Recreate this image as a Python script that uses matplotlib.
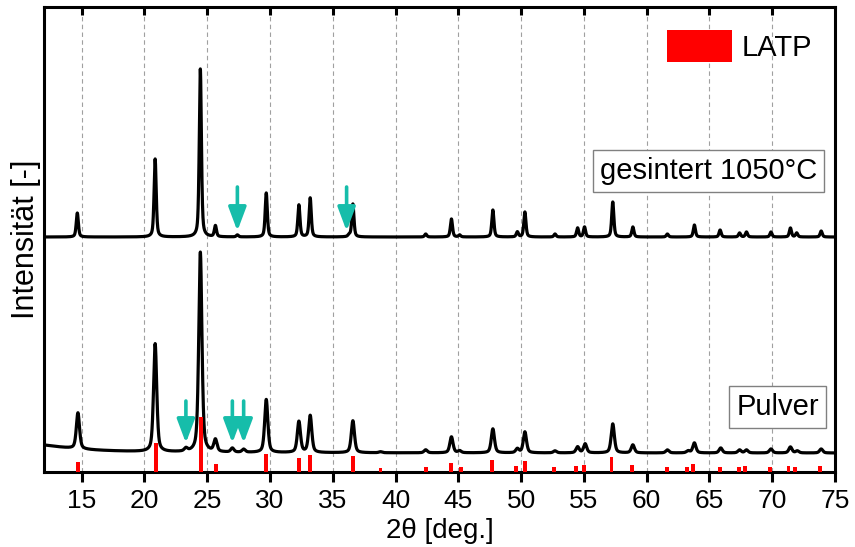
import numpy as np
import matplotlib.pyplot as plt

plt.rcParams['font.family'] = ['Liberation Sans', 'DejaVu Sans']

# peak tables: position [deg], height above background [a.u.]
pulver_pos = [14.7, 20.85, 23.3, 24.45, 25.65, 27.0, 27.9, 29.7, 32.3, 33.2, 36.6,
              38.8, 42.4, 44.45, 45.1, 47.75, 49.7, 50.3, 52.7, 54.5, 55.1, 57.3,
              58.9, 61.65, 63.3, 63.8, 65.9, 67.4, 67.95, 69.9, 71.45, 72.0, 73.9]
pulver_int = [36, 108, 3, 200, 12, 4, 3, 53, 31, 37, 32,
              1, 3, 16, 2, 24, 4, 21, 2, 6, 9, 29,
              8, 3, 2, 10, 5, 3, 3, 4, 6, 2, 4]

sinter_pos = [14.65, 20.85, 24.45, 25.65, 27.4, 29.7, 32.3, 33.2, 36.3, 36.6,
              42.4, 44.45, 45.1, 47.75, 49.7, 50.3, 52.7, 54.5, 55.05, 57.3,
              58.9, 61.65, 63.8, 65.85, 67.4, 67.95, 69.9, 71.45, 71.95, 73.9]
sinter_int = [24, 78, 168, 11, 2, 44, 32, 39, 2, 33,
              3, 18, 2, 27, 5, 25, 3, 9, 10, 35,
              10, 3, 12, 7, 4, 5, 5, 9, 4, 6]

# LATP reference pattern
latp_pos = [14.7, 20.9, 24.5, 25.7, 29.7, 32.3, 33.2, 36.6, 38.8, 42.4, 44.4,
            45.2, 47.7, 49.6, 50.3, 52.6, 54.4, 55.0, 57.2, 58.85, 61.6, 63.2,
            63.7, 65.85, 67.35, 67.85, 69.85, 71.3, 71.8, 73.8]
latp_int = [10, 29, 55, 8, 18, 14, 17, 16, 4, 5, 9,
            5, 12, 6, 11, 5, 6, 7, 15, 7, 5, 5,
            8, 5, 5, 6, 5, 6, 5, 6]

# secondary phase markers
pulver_arrows = [23.3, 27.0, 27.9]
sinter_arrows = [27.4, 36.1]

pulver_base = 19
sinter_base = 235


def pattern(x, pos, inten, fwhm, base):
    y = np.full_like(x, float(base))
    g = fwhm / 2
    for p, h in zip(pos, inten):
        d = (x - p) / g
        y += h * (0.5 / (1 + d ** 2) + 0.5 * np.exp(-np.log(2) * d ** 2))
    return y


x = np.linspace(12, 75, 6301)
y_pulver = pattern(x, pulver_pos, pulver_int, 0.3, pulver_base)
y_pulver += 10 / (1 + ((x - 10) / 4) ** 2)   # low-angle background
y_sinter = pattern(x, sinter_pos, sinter_int, 0.2, sinter_base)

fig = plt.figure(figsize=(8.55, 5.47), dpi=100)
ax = fig.add_axes([0.0515, 0.1371, 0.9251, 0.8501])

ax.plot(x, y_sinter, color='black', lw=2.3, zorder=3)
ax.plot(x, y_pulver, color='black', lw=2.3, zorder=3)
ax.bar(latp_pos, latp_int, width=0.3, color='red', label='LATP', zorder=4)

teal = '#16BDAA'
arrow = dict(arrowstyle='-|>,head_length=0.8,head_width=0.3', color=teal,
             lw=2.6, mutation_scale=18, shrinkA=0, shrinkB=0)
for xa in pulver_arrows:
    ax.annotate('', xy=(xa, 29), xytext=(xa, 71), arrowprops=arrow, zorder=5)
for xa in sinter_arrows:
    ax.annotate('', xy=(xa, 241), xytext=(xa, 285), arrowprops=arrow, zorder=5)

box = dict(boxstyle='square,pad=0.25', fc='white', ec='#808080', lw=1.0)
ax.text(64.92, 301, 'gesintert 1050°C', fontsize=21, ha='center', va='center',
        bbox=box, zorder=6)
ax.text(70.43, 65, 'Pulver', fontsize=21, ha='center', va='center',
        bbox=box, zorder=6)

ax.set_xlim(12, 75)
ax.set_ylim(0, 465)
ax.set_xticks(np.arange(15, 80, 5))
ax.set_yticks([])
ax.grid(axis='x', color='#a0a0a0', ls=(0, (4, 3)), lw=0.8)
ax.set_axisbelow(True)
ax.tick_params(axis='x', labelsize=19, direction='out', length=7, width=2.2,
               pad=5)
for sp in ax.spines.values():
    sp.set_linewidth(2.2)

# inward ticks along the top edge
for t in ax.get_xticks()[:-1]:
    ax.plot([t, t], [465, 465 - 8], color='black', lw=2.2, clip_on=False,
            solid_capstyle='butt', zorder=6)

ax.set_xlabel('2θ [deg.]', fontsize=20, labelpad=4)
ax.set_ylabel('Intensität [-]', fontsize=22, labelpad=2)

ax.legend(loc='upper right', frameon=False, fontsize=21,
          handlelength=2.25, handleheight=1.3, handletextpad=0.3,
          borderaxespad=0.4, borderpad=0.4)

fig.savefig('out.png', dpi=100)
